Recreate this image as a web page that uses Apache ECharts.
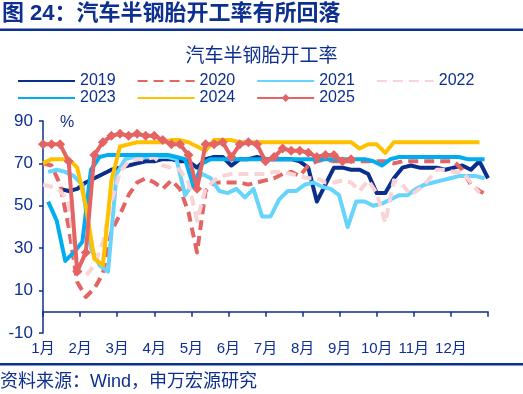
<!DOCTYPE html>
<html>
<head>
<meta charset="utf-8">
<script src="https://cdn.jsdelivr.net/npm/echarts@6/dist/echarts.min.js"></script>
<style>
html,body{margin:0;padding:0;background:#fff;}
#chart{width:523px;height:394px;}
</style>
</head>
<body>
<div id="chart"></div>
<script>
// ---- data (weekly utilisation, %), x = week of year ----
const seriesNames = ['2019', '2020', '2021', '2022', '2023', '2024', '2025'];
const monthLabels = ['1月','2月','3月','4月','5月','6月','7月','8月','9月','10月','11月','12月'];
const yTicks = [-10, 10, 30, 50, 70, 90];
const weeksInYear = 52;

const startWeek2019 = 2;
const y2019 = [58,57,58,61,63,65,67,68,69,70,71,71,72,72,71,71,68,72,73,73,69,72,72,73,72,72,72,72,71,68,52,60,68,68,67,67,65,56,56,63,68,69,68,68,68,67,68,69,67,71,63];
const startWeek2020 = 0;
const y2020 = [70,69,60,40,14,7,11,18,38,46,55,61,63,61,58,62,58,47,28,57,61,61,61,61,60,61,62,63,65,66,64,69,71,72,71,71,71,71,71,71,71,70,71,71,71,71,71,71,71,67,60,57,55];
const startWeek2021 = 0.6;
const y2021 = [66,67,66,64,60,30,22,19,65,72,73,73,73,73,73,72,55,61,65,63,57,56,58,54,58,45,45,53,57,57,60,61,59,58,55,40,52,52,50,51,53,55,55,58,60,61,62,63,64,64,64,63];
const startWeek2022 = 0;
const y2022 = [60,59,57,52,20,17,22,33,52,66,71,72,72,73,69,68,67,61,43,58,62,64,65,65,65,65,65,66,66,65,64,63,63,61,61,62,61,57,62,56,42,62,60,55,58,62,67,67,66,66,61,56];
const startWeek2023 = 0.6;
const y2023 = [52,43,24,28,33,67,73,74,74,74,74,74,74,74,74,73,72,59,70,72,72,72,72,72,72,72,72,72,72,72,72,72,72,72,72,72,72,72,71,69,72,73,73,73,73,73,73,73,73,72,72,72];
const startWeek2024 = 0;
const y2024 = [70,72,72,72,68,50,25,22,62,78,79,80,80,80,80,81,81,80,78,76,81,81,81,80,80,80,80,80,80,80,80,80,80,80,80,80,80,77,79,79,75,80,80,80,80,80,80,80,80,80,80,80];
const startWeek2025 = 0;
const y2025 = [79,79,79,71,19,28,74,80,83,84,83,84,83,83,81,79,79,74,58,79,79,80,73,79,80,79,71,73,77,76,76,75,73,74,74,71,72];

// ---- styles ----
const NAVY = '#0d2f8f';
const FONT = "'Liberation Sans','Noto Sans CJK SC',sans-serif";
const colors = {
  '2019': '#0a2e8c',
  '2020': '#e46464',
  '2021': '#66d4fb',
  '2022': '#f9d3d5',
  '2023': '#00aeef',
  '2024': '#ffc000',
  '2025': '#e46464'
};

function pts(start, arr) { return arr.map((v, i) => [start + i, v]); }

const raw = {
  '2019': pts(startWeek2019, y2019),
  '2020': pts(startWeek2020, y2020),
  '2021': pts(startWeek2021, y2021),
  '2022': pts(startWeek2022, y2022),
  '2023': pts(startWeek2023, y2023),
  '2024': pts(startWeek2024, y2024),
  '2025': pts(startWeek2025, y2025)
};

const series = seriesNames.map(name => {
  const dashed = (name === '2020' || name === '2022');
  const s = {
    name: name,
    type: 'line',
    data: raw[name],
    symbol: 'none',
    smooth: false,
    lineStyle: { color: colors[name], width: 4, type: dashed ? [10, 6] : 'solid', join: 'round' },
    itemStyle: { color: colors[name] },
    z: 2
  };
  if (name === '2025') {
    s.symbol = 'diamond';
    s.symbolSize = 10;
    s.showSymbol = true;
    s.showAllSymbol = true;
    s.z = 5;
  }
  return s;
});

const chart = echarts.init(document.getElementById('chart'), null, { renderer: 'canvas' });
const monthStep = weeksInYear / 12;

function legendItem(name) {
  return name === '2025' ? { name: name } : { name: name, itemStyle: { opacity: 0 } };
}

const legendCommon = {
  orient: 'horizontal',
  padding: 0,
  itemWidth: 57,
  itemHeight: 10,
  itemGap: 21,
  textStyle: { color: NAVY, fontSize: 16, fontFamily: FONT }
};

chart.setOption({
  animation: false,
  backgroundColor: '#fff',
  textStyle: { fontFamily: FONT },
  grid: { left: 43, right: 35, top: 121, bottom: 61, containLabel: false },
  legend: [
    Object.assign({}, legendCommon, { left: 17, top: 73, data: seriesNames.slice(0, 4).map(legendItem) }),
    Object.assign({}, legendCommon, { left: 17, top: 90, data: seriesNames.slice(4).map(legendItem) })
  ],
  xAxis: {
    type: 'value',
    min: 0,
    max: weeksInYear,
    interval: monthStep,
    splitLine: { show: false },
    axisLine: { onZero: true, lineStyle: { color: NAVY, width: 1.5 } },
    axisTick: { show: true, length: 5, lineStyle: { color: NAVY, width: 1.5 } },
    axisLabel: {
      color: NAVY, fontSize: 15, fontFamily: FONT, margin: 8,
      formatter: v => {
        const m = Math.round(v / monthStep);
        return m < monthLabels.length ? monthLabels[m] : '';
      }
    }
  },
  yAxis: {
    type: 'value',
    min: yTicks[0],
    max: yTicks[yTicks.length - 1],
    interval: yTicks[1] - yTicks[0],
    splitLine: { show: false },
    axisLine: { show: true, lineStyle: { color: NAVY, width: 1.5 } },
    axisTick: { show: true, length: 4, lineStyle: { color: NAVY, width: 1.5 } },
    axisLabel: { color: NAVY, fontSize: 17, fontFamily: FONT, margin: 10 }
  },
  graphic: [
    { type: 'text', left: 2, top: 3, style: { text: '图 24：汽车半钢胎开工率有所回落', fill: NAVY, font: "bold 22px " + FONT } },
    { type: 'rect', left: 0, top: 28.5, shape: { width: 523, height: 2.5 }, style: { fill: '#0a3090' } },
    { type: 'text', left: 'center', top: 47, style: { text: '汽车半钢胎开工率', fill: NAVY, font: "19px " + FONT } },
    { type: 'text', left: 60, top: 115, style: { text: '%', fill: NAVY, font: "16px " + FONT } },
    { type: 'rect', left: 0, top: 363, shape: { width: 523, height: 2.5 }, style: { fill: '#0a3090' } },
    { type: 'text', left: 0, top: 373, style: { text: '资料来源：Wind，申万宏源研究', fill: NAVY, font: "18px " + FONT } }
  ],
  series: series
});
</script>
</body>
</html>
